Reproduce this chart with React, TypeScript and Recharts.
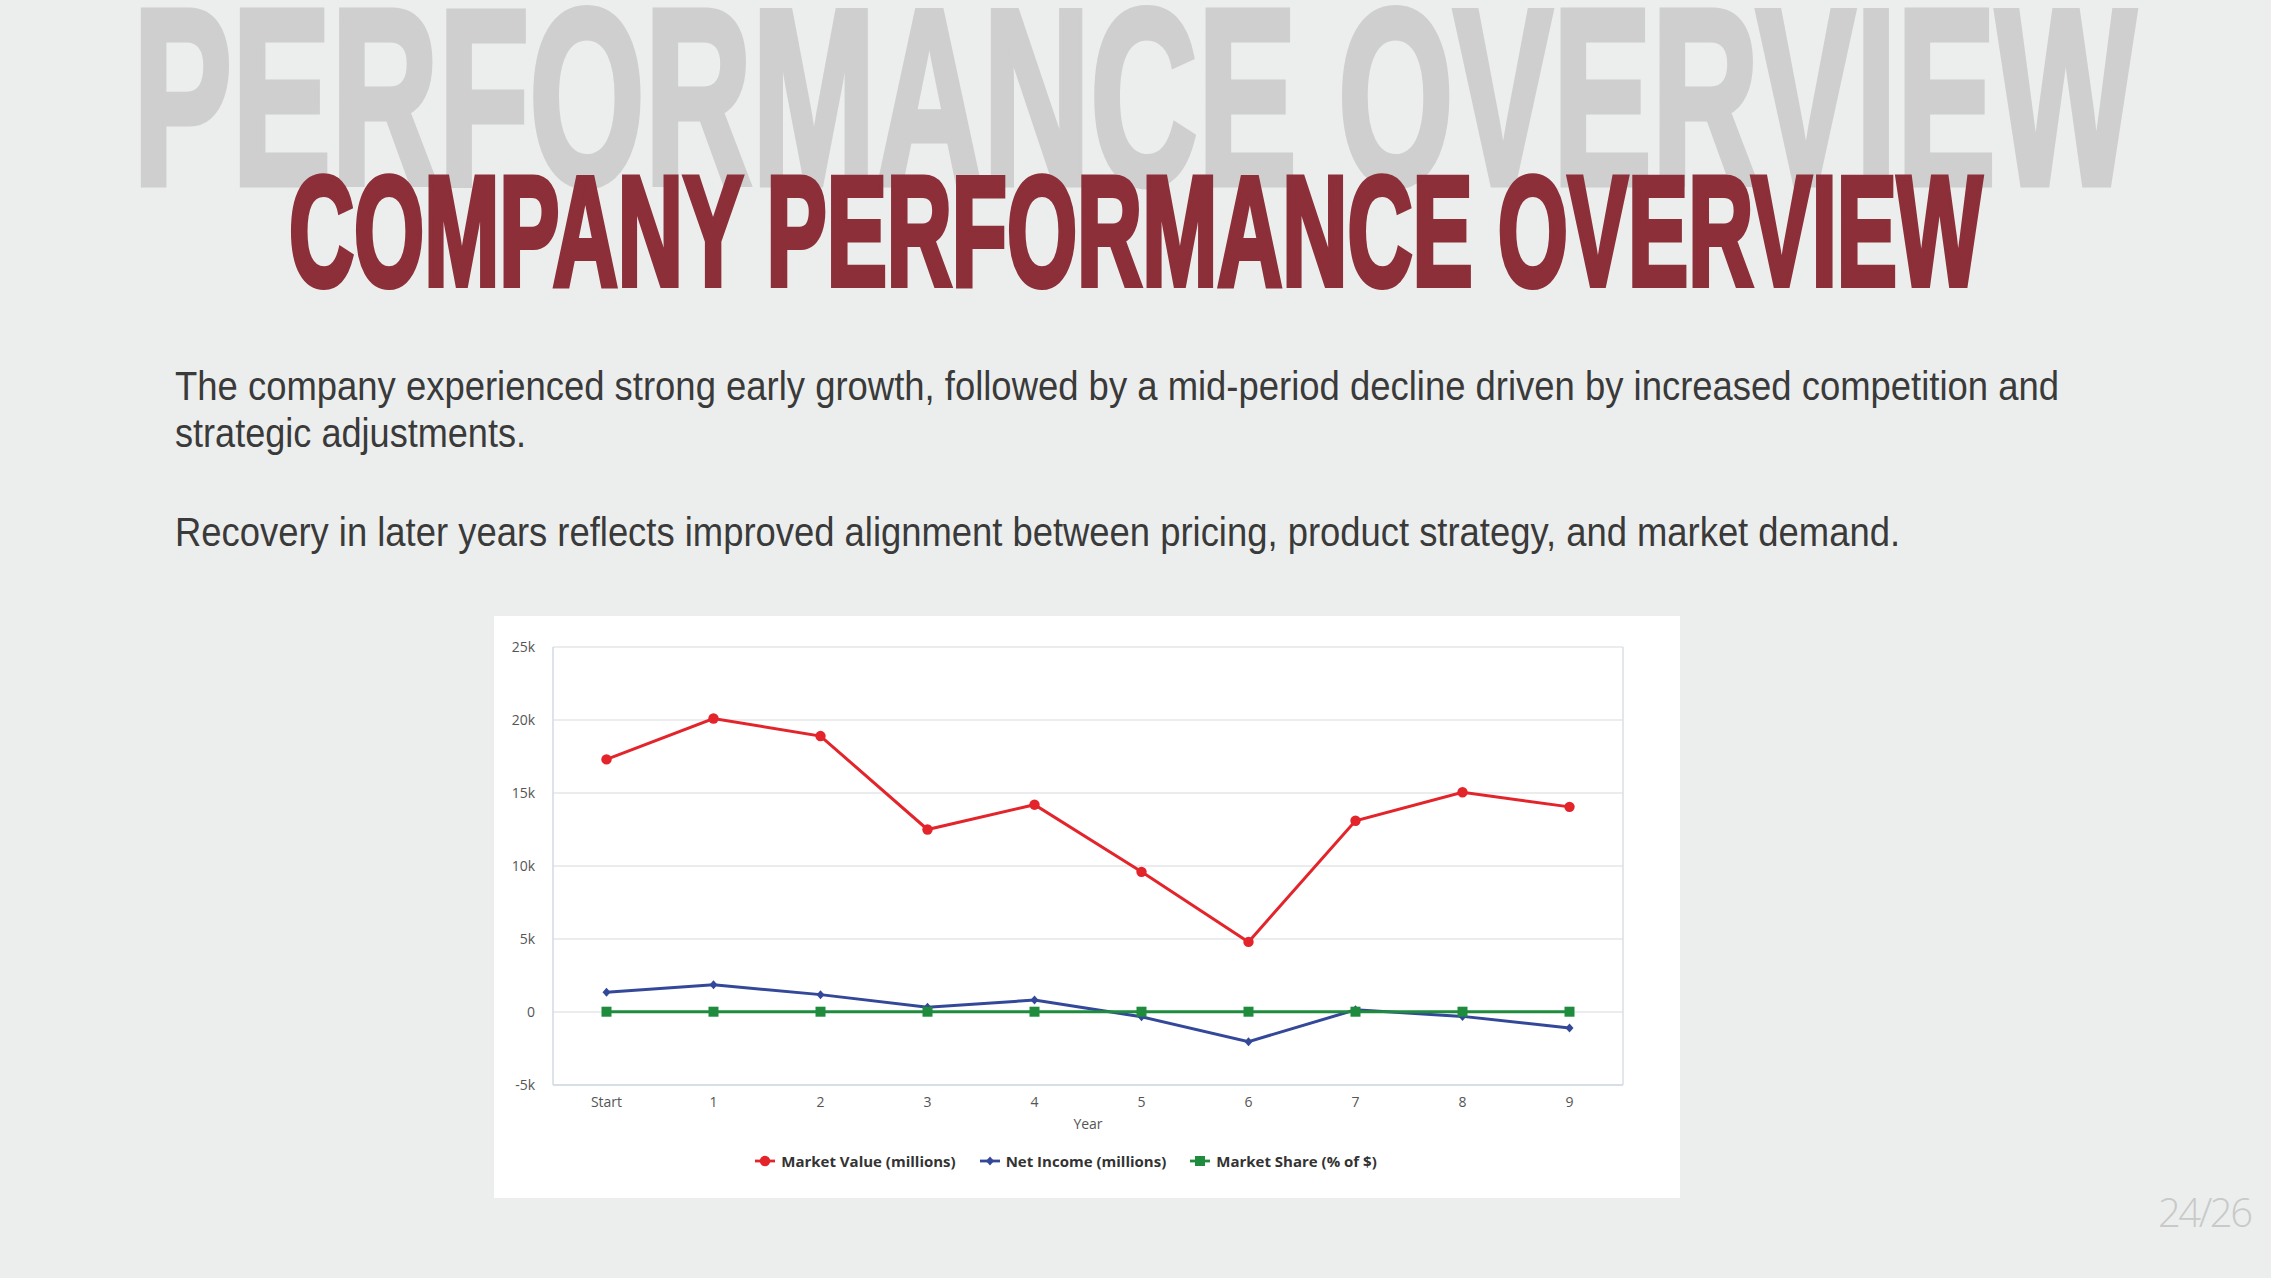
import React from 'react';
import { LineChart, Line, XAxis, YAxis, CartesianGrid, Legend } from 'recharts';

const years = ['Start', '1', '2', '3', '4', '5', '6', '7', '8', '9'];
const marketValue = [17300, 20100, 18900, 12500, 14200, 9600, 4800, 13100, 15050, 14050];
const netIncome = [1350, 1870, 1190, 330, 820, -330, -2030, 150, -300, -1090];
const marketShare = [20, 20, 20, 20, 20, 20, 20, 20, 20, 20];
const yTicks = [-5000, 0, 5000, 10000, 15000, 20000, 25000];

const seriesInfo = [
  { key: 'mv', name: 'Market Value (millions)', color: '#e3242b', shape: 'circle' },
  { key: 'ni', name: 'Net Income (millions)', color: '#34489a', shape: 'diamond' },
  { key: 'ms', name: 'Market Share (% of $)', color: '#1e8c3c', shape: 'square' },
];

const data = years.map((y, i) => ({ year: y, mv: marketValue[i], ni: netIncome[i], ms: marketShare[i] }));

const fmtK = (v: number) => (v === 0 ? '0' : `${v / 1000}k`);

function Marker({ cx, cy, shape, color }: any) {
  if (cx == null || cy == null) return null;
  if (shape === 'circle') return <circle cx={cx} cy={cy} r={5.2} fill={color} />;
  if (shape === 'diamond') return <path d={`M${cx},${cy - 4.5} L${cx + 4},${cy} L${cx},${cy + 4.5} L${cx - 4},${cy} Z`} fill={color} />;
  return <rect x={cx - 5} y={cy - 5} width={10} height={10} fill={color} />;
}

function LegendBox() {
  return (
    <div style={{ display: 'flex', justifyContent: 'center', gap: 24, paddingRight: 42, fontFamily: '"Open Sans", sans-serif', fontWeight: 700, fontSize: 15, color: '#333' }}>
      {seriesInfo.map(s => (
        <div key={s.key} style={{ display: 'flex', alignItems: 'center', gap: 6 }}>
          <svg width={20} height={12}>
            <line x1={0} y1={6} x2={20} y2={6} stroke={s.color} strokeWidth={2.8} />
            <Marker cx={10} cy={6} shape={s.shape} color={s.color} />
          </svg>
          <span>{s.name}</span>
        </div>
      ))}
    </div>
  );
}

export default function App() {
  const bodyFont = '"Liberation Sans", Arial, sans-serif';
  const tickStyle = { fontFamily: '"Open Sans", sans-serif', fontSize: 14, fill: '#555' };
  return (
    <div style={{ position: 'absolute', left: 0, top: 0, width: 2271, height: 1278, background: '#eceeed', overflow: 'hidden' }}>
      <svg width={2271} height={600} style={{ position: 'absolute', left: 0, top: 0 }}>
        <text x={133} y={184} fontFamily={bodyFont} fontWeight={700} fontSize={250} fill="#cfcfcf" stroke="#cfcfcf" strokeWidth={7}
          textLength={2003} lengthAdjust="spacingAndGlyphs">PERFORMANCE OVERVIEW</text>
        <text x={289} y={285} fontFamily={bodyFont} fontWeight={700} fontSize={155} fill="#8c2f39" stroke="#8c2f39" strokeWidth={6}
          textLength={1693} lengthAdjust="spacingAndGlyphs">COMPANY PERFORMANCE OVERVIEW</text>
        <g fontFamily={bodyFont} fontSize={40} fill="#3a3a3a">
          <text x={175} y={400} textLength={1884} lengthAdjust="spacingAndGlyphs">The company experienced strong early growth, followed by a mid-period decline driven by increased competition and</text>
          <text x={175} y={447} textLength={351} lengthAdjust="spacingAndGlyphs">strategic adjustments.</text>
          <text x={175} y={546} textLength={1725} lengthAdjust="spacingAndGlyphs">Recovery in later years reflects improved alignment between pricing, product strategy, and market demand.</text>
        </g>
      </svg>

      <div style={{ position: 'absolute', left: 494, top: 616, width: 1186, height: 582, background: '#ffffff' }}>
        <LineChart width={1186} height={582} data={data} margin={{ top: 31, right: 55, bottom: 0, left: 0 }}>
          <CartesianGrid vertical={false} stroke="#e4e6e9" strokeWidth={1.3} />
          <XAxis dataKey="year" padding={{ left: 53.5, right: 53.5 }} tickLine={false} tickSize={0} tickMargin={12}
            axisLine={{ stroke: '#d2dae4', strokeWidth: 1.5 }} height={80} tick={tickStyle}
            label={{ value: 'Year', position: 'insideBottom', offset: 36, style: tickStyle }} />
          <YAxis domain={[-5000, 25000]} ticks={yTicks} tickFormatter={fmtK} width={59} tickLine={false} tickSize={0} tickMargin={18}
            axisLine={{ stroke: '#d2dae4', strokeWidth: 1.5 }} tick={tickStyle} />
          <YAxis yAxisId="frame" orientation="right" domain={[-5000, 25000]} ticks={yTicks} width={2} tick={false} tickLine={false}
            axisLine={{ stroke: '#d9dfe6', strokeWidth: 1.5 }} />
          <Legend verticalAlign="bottom" height={33} wrapperStyle={{ bottom: 14, left: 0, width: 1186 }} content={() => <LegendBox />} />
          {seriesInfo.map(s => (
            <Line key={s.key} dataKey={s.key} name={s.name} stroke={s.color} strokeWidth={3} isAnimationActive={false}
              dot={(p: any) => <Marker key={`${s.key}-${p.index}`} cx={p.cx} cy={p.cy} shape={s.shape} color={s.color} />}
              activeDot={false} />
          ))}
        </LineChart>
      </div>

      <div style={{ position: 'absolute', left: 2158, top: 1184, fontFamily: '"Open Sans", sans-serif', fontWeight: 300, fontSize: 40, color: '#c8c9c9', letterSpacing: -2.5 }}>24/26</div>
    </div>
  );
}
